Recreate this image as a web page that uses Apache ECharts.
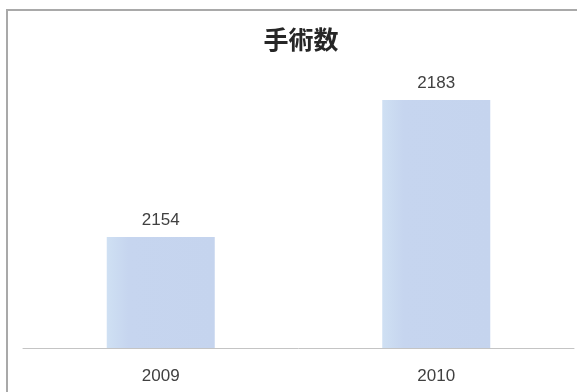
<!DOCTYPE html>
<html>
<head>
<meta charset="utf-8">
<style>
  html, body { margin: 0; padding: 0; background: #ffffff; }
  #chart { width: 577px; height: 392px; }
</style>
<script src="https://cdn.jsdelivr.net/npm/echarts@6/dist/echarts.min.js"></script>
</head>
<body>
<div id="chart"></div>
<script>
// Surgery counts per year
const titleText = '手術数';
const years = ['2009', '2010'];
const surgeries = [2154, 2183];

const chart = echarts.init(document.getElementById('chart'), null, { renderer: 'canvas' });

chart.setOption({
  backgroundColor: '#ffffff',
  animation: false,
  title: {
    text: titleText,
    left: 296,
    top: 22,
    textAlign: 'center',
    textStyle: {
      fontFamily: 'Noto Sans CJK JP',
      fontSize: 25,
      fontWeight: 'bold',
      color: '#262626'
    }
  },
  graphic: [{
    type: 'rect',
    shape: { x: 7, y: 10, width: 600, height: 420 },
    style: { fill: 'none', stroke: '#a9a9a9', lineWidth: 2 },
    silent: true
  }],
  grid: { left: 23, right: 3, top: 67, bottom: 44 },
  xAxis: {
    type: 'category',
    data: years,
    axisLine: { lineStyle: { color: '#c4c4c4', width: 1 } },
    axisTick: { show: false },
    axisLabel: {
      margin: 20,
      fontFamily: 'Liberation Sans',
      fontSize: 17,
      color: '#404040'
    }
  },
  yAxis: {
    type: 'value',
    min: 2130.5,
    max: 2190,
    show: false,
    splitLine: { show: false }
  },
  series: [{
    type: 'bar',
    data: surgeries,
    barWidth: 108,
    itemStyle: {
      color: {
        type: 'linear', x: 0, y: 0, x2: 1, y2: 0,
        colorStops: [
          { offset: 0, color: '#cfe0f3' },
          { offset: 0.2, color: '#c6d5ef' },
          { offset: 1, color: '#c5d4ee' }
        ]
      }
    },
    label: {
      show: true,
      position: 'top',
      distance: 8,
      fontFamily: 'Liberation Sans',
      fontSize: 17,
      color: '#404040'
    }
  }]
});
</script>
</body>
</html>
